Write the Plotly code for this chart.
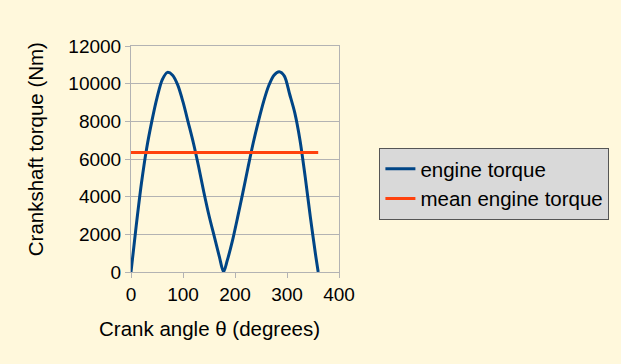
import plotly.graph_objects as go

# Data
angle_deg = [0, 10, 20, 30, 40, 50, 60, 70, 80, 90, 100, 110, 120, 130, 140, 150, 160,
             170, 178, 185, 195, 205, 215, 225, 235, 245, 255, 265, 275, 285, 295, 305,
             315, 325, 335, 345, 355, 360]
engine_torque = [0, 2450, 4700, 6550, 8000, 9250, 10200, 10600, 10450, 9920, 9030, 7950,
                 6850, 5600, 4250, 3000, 1900, 800, 0, 600, 1650, 2900, 4200, 5550, 6850,
                 8000, 9050, 9900, 10450, 10630, 10400, 9450, 8450, 7000, 5050, 2900, 900, 0]
mean_angle = [0, 360]
mean_torque = [6350, 6350]

x_ticks = [0, 100, 200, 300, 400]
y_ticks = [0, 2000, 4000, 6000, 8000, 10000, 12000]

BG = "#FFF8DC"
GRID = "#B3B3B3"
FONT = "Liberation Sans, Arial, sans-serif"

fig = go.Figure()
fig.add_trace(go.Scatter(x=angle_deg, y=engine_torque, mode="lines", name="engine torque",
                         line=dict(color="#004586", width=3, shape="spline", smoothing=0.8)))
fig.add_trace(go.Scatter(x=mean_angle, y=mean_torque, mode="lines", name="mean engine torque",
                         line=dict(color="#FF420E", width=3)))

L, R, T, B = 131, 281.5, 46, 92
PW, PH = 621 - L - R, 364 - T - B

fig.update_layout(
    width=621, height=364,
    margin=dict(l=L, r=R, t=T, b=B, pad=0),
    paper_bgcolor=BG, plot_bgcolor=BG,
    font=dict(family=FONT, size=19, color="black"),
    showlegend=True,
    legend=dict(x=(380 - L) / PW, y=(272 - 148) / PH, xanchor="left", yanchor="top",
                bgcolor="#D9D9D9", bordercolor="#555555", borderwidth=1,
                font=dict(size=20.5, family=FONT, color="black"),
                tracegroupgap=0),
    xaxis=dict(range=[0, 400], tickvals=x_ticks, ticktext=[str(v) for v in x_ticks],
               showgrid=False, zeroline=False, showline=True, mirror=True,
               linecolor=GRID, linewidth=1, ticks="outside", ticklen=5, tickcolor=GRID,
               tickfont=dict(size=19)),
    yaxis=dict(range=[0, 12000], tickvals=y_ticks, ticktext=[str(v) for v in y_ticks],
               showgrid=True, gridcolor=GRID, gridwidth=1, zeroline=False,
               showline=True, mirror=True, linecolor=GRID, linewidth=1,
               ticks="outside", ticklen=5, tickcolor=GRID, tickfont=dict(size=19)),
    annotations=[
        dict(text="Crank angle θ (degrees)", xref="paper", yref="paper",
             x=(209.5 - L) / PW, y=-(328 - 272) / PH, xanchor="center", yanchor="middle",
             showarrow=False, font=dict(size=20.5, family=FONT, color="black")),
        dict(text="Crankshaft torque (Nm)", xref="paper", yref="paper",
             x=(35 - L) / PW, y=(272 - 149) / PH, xanchor="center", yanchor="middle",
             textangle=-90, showarrow=False, font=dict(size=20.5, family=FONT, color="black")),
    ],
)

fig.write_html("out.html")
